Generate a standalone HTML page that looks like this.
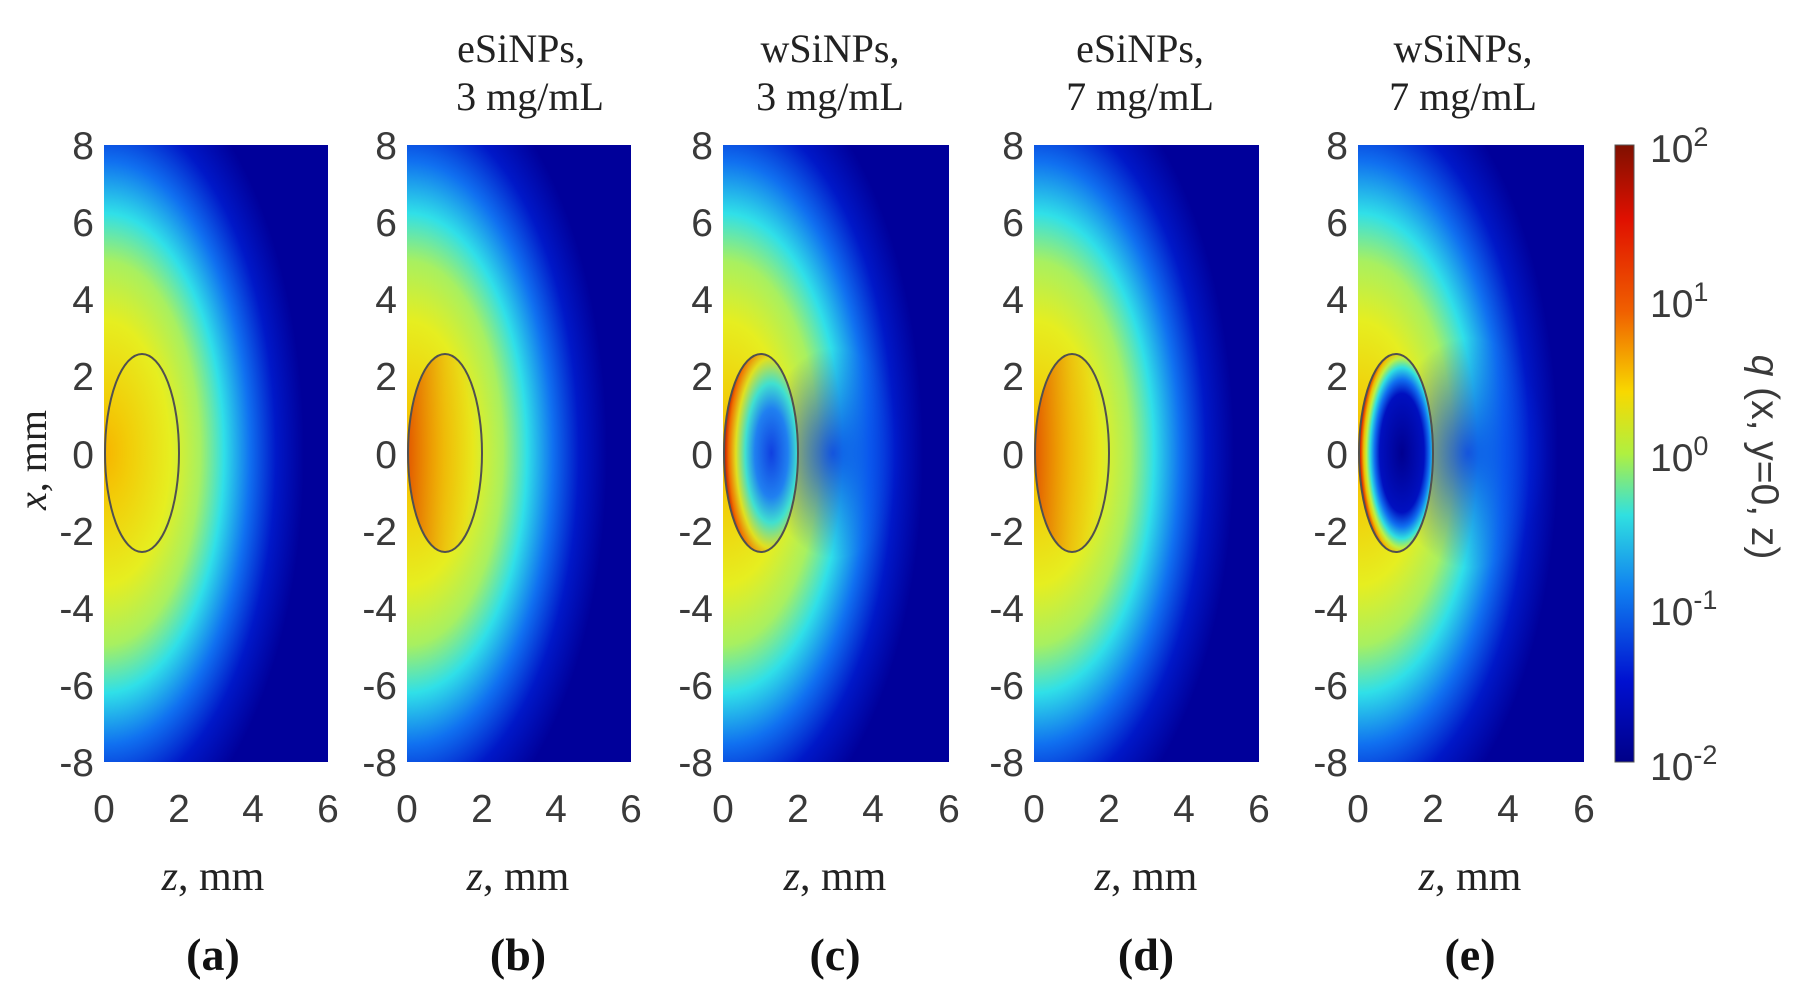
<!DOCTYPE html>
<html><head><meta charset="utf-8"><style>
html,body{margin:0;padding:0;background:#fff;}
svg{display:block}
.t{font-family:"Liberation Sans",sans-serif;font-size:39px;fill:#3a3a3a}
.s{font-family:"Liberation Serif",serif;font-size:40px;fill:#222}
.b{font-family:"Liberation Serif",serif;font-size:46px;fill:#111;font-weight:bold}
</style></head><body>
<svg width="1815" height="1000" viewBox="0 0 1815 1000" xmlns="http://www.w3.org/2000/svg">
<defs>
<radialGradient id="base" gradientUnits="userSpaceOnUse" cx="0" cy="0" r="1" gradientTransform="translate(0,308) scale(200,400)">
<stop offset="0" stop-color="#f7b400"/>
<stop offset="0.12" stop-color="#f2cc08"/>
<stop offset="0.33" stop-color="#e6ee20"/>
<stop offset="0.48" stop-color="#a8f060"/>
<stop offset="0.6" stop-color="#30e0e8"/>
<stop offset="0.73" stop-color="#1070f0"/>
<stop offset="0.86" stop-color="#0018c8"/>
<stop offset="1.0" stop-color="#00009a"/>
</radialGradient>
<linearGradient id="bin" x1="0" x2="1">
<stop offset="0" stop-color="#e05000" stop-opacity="0.9"/>
<stop offset="0.5" stop-color="#f0a000" stop-opacity="0.5"/>
<stop offset="1" stop-color="#f0c000" stop-opacity="0"/>
</linearGradient>
<radialGradient id="cin" cx="0.64" cy="0.5" r="0.64">
<stop offset="0" stop-color="#1040e0"/>
<stop offset="0.35" stop-color="#2080f0"/>
<stop offset="0.55" stop-color="#40e0d0"/>
<stop offset="0.75" stop-color="#e0e020"/>
<stop offset="0.9" stop-color="#f07000"/>
<stop offset="1" stop-color="#c01000"/>
</radialGradient>
<radialGradient id="ein" cx="0.58" cy="0.5" r="0.6">
<stop offset="0" stop-color="#000090"/>
<stop offset="0.5" stop-color="#0010c0"/>
<stop offset="0.62" stop-color="#1070f0"/>
<stop offset="0.72" stop-color="#30e0e0"/>
<stop offset="0.8" stop-color="#c0f040"/>
<stop offset="0.86" stop-color="#f0c000"/>
<stop offset="0.93" stop-color="#e03000"/>
<stop offset="1" stop-color="#800000"/>
</radialGradient>
<radialGradient id="shadow" cx="0.5" cy="0.5" r="0.5">
<stop offset="0" stop-color="#0030e8" stop-opacity="0.8"/>
<stop offset="1" stop-color="#0030e8" stop-opacity="0"/>
</radialGradient>
<linearGradient id="cb" x1="0" x2="0" y1="0" y2="1">
<stop offset="0" stop-color="#801000"/>
<stop offset="0.12" stop-color="#e01000"/>
<stop offset="0.27" stop-color="#f06000"/>
<stop offset="0.4" stop-color="#f8d800"/>
<stop offset="0.5" stop-color="#b0f040"/>
<stop offset="0.6" stop-color="#30e0e0"/>
<stop offset="0.72" stop-color="#1080f0"/>
<stop offset="0.87" stop-color="#0010d0"/>
<stop offset="1" stop-color="#000088"/>
</linearGradient>
</defs>

<g transform="translate(104,145)">
<rect width="224" height="617" fill="url(#base)"/>
<ellipse cx="38" cy="308" rx="37" ry="99" fill="none" stroke="#505050" stroke-width="2"/>
</g>
<g transform="translate(407,145)">
<rect width="224" height="617" fill="url(#base)"/>
<ellipse cx="38" cy="308" rx="37" ry="99" fill="url(#bin)"/>
<ellipse cx="38" cy="308" rx="37" ry="99" fill="none" stroke="#505050" stroke-width="2"/>
</g>
<g transform="translate(723,145)">
<rect width="226" height="617" fill="url(#base)"/>
<ellipse cx="110" cy="308" rx="70" ry="105" fill="url(#shadow)"/>
<ellipse cx="38" cy="308" rx="37" ry="99" fill="url(#cin)"/>
<ellipse cx="38" cy="308" rx="37" ry="99" fill="none" stroke="#505050" stroke-width="2"/>
</g>
<g transform="translate(1034,145)">
<rect width="225" height="617" fill="url(#base)"/>
<ellipse cx="38" cy="308" rx="37" ry="99" fill="url(#bin)"/>
<ellipse cx="38" cy="308" rx="37" ry="99" fill="none" stroke="#505050" stroke-width="2"/>
</g>
<g transform="translate(1358,145)">
<rect width="226" height="617" fill="url(#base)"/>
<ellipse cx="110" cy="308" rx="80" ry="115" fill="url(#shadow)"/>
<ellipse cx="38" cy="308" rx="37" ry="99" fill="url(#ein)"/>
<ellipse cx="38" cy="308" rx="37" ry="99" fill="none" stroke="#505050" stroke-width="2"/>
</g>

<rect x="1615" y="145" width="19" height="617" fill="url(#cb)" stroke="#555" stroke-width="1"/>

<g class="t" text-anchor="end">
<text x="94" y="159">8</text><text x="94" y="236">6</text><text x="94" y="313">4</text><text x="94" y="390">2</text><text x="94" y="468">0</text><text x="94" y="545">-2</text><text x="94" y="622">-4</text><text x="94" y="699">-6</text><text x="94" y="776">-8</text>
<text x="397" y="159">8</text><text x="397" y="236">6</text><text x="397" y="313">4</text><text x="397" y="390">2</text><text x="397" y="468">0</text><text x="397" y="545">-2</text><text x="397" y="622">-4</text><text x="397" y="699">-6</text><text x="397" y="776">-8</text>
<text x="713" y="159">8</text><text x="713" y="236">6</text><text x="713" y="313">4</text><text x="713" y="390">2</text><text x="713" y="468">0</text><text x="713" y="545">-2</text><text x="713" y="622">-4</text><text x="713" y="699">-6</text><text x="713" y="776">-8</text>
<text x="1024" y="159">8</text><text x="1024" y="236">6</text><text x="1024" y="313">4</text><text x="1024" y="390">2</text><text x="1024" y="468">0</text><text x="1024" y="545">-2</text><text x="1024" y="622">-4</text><text x="1024" y="699">-6</text><text x="1024" y="776">-8</text>
<text x="1348" y="159">8</text><text x="1348" y="236">6</text><text x="1348" y="313">4</text><text x="1348" y="390">2</text><text x="1348" y="468">0</text><text x="1348" y="545">-2</text><text x="1348" y="622">-4</text><text x="1348" y="699">-6</text><text x="1348" y="776">-8</text>
</g>
<g class="t" text-anchor="middle">
<text x="104" y="822">0</text><text x="179" y="822">2</text><text x="253" y="822">4</text><text x="328" y="822">6</text>
<text x="407" y="822">0</text><text x="482" y="822">2</text><text x="556" y="822">4</text><text x="631" y="822">6</text>
<text x="723" y="822">0</text><text x="798" y="822">2</text><text x="873" y="822">4</text><text x="949" y="822">6</text>
<text x="1034" y="822">0</text><text x="1109" y="822">2</text><text x="1184" y="822">4</text><text x="1259" y="822">6</text>
<text x="1358" y="822">0</text><text x="1433" y="822">2</text><text x="1508" y="822">4</text><text x="1584" y="822">6</text>
</g>
<g class="t">
<text x="1650" y="162">10<tspan dy="-16" font-size="27">2</tspan></text>
<text x="1650" y="317">10<tspan dy="-16" font-size="27">1</tspan></text>
<text x="1650" y="471">10<tspan dy="-16" font-size="27">0</tspan></text>
<text x="1650" y="625">10<tspan dy="-16" font-size="27">-1</tspan></text>
<text x="1650" y="780">10<tspan dy="-16" font-size="27">-2</tspan></text>
</g>
<text class="t" transform="translate(1752,457) rotate(90)" text-anchor="middle" font-size="36"><tspan font-style="italic">q</tspan> (x, y=0, z)</text>
<text class="s" transform="translate(46,460) rotate(-90)" text-anchor="middle" font-size="40"><tspan font-style="italic">x</tspan>, mm</text>

<g class="s" text-anchor="middle">
<text x="521" y="62">eSiNPs,</text><text x="530" y="110">3 mg/mL</text>
<text x="830" y="62">wSiNPs,</text><text x="830" y="110">3 mg/mL</text>
<text x="1140" y="62">eSiNPs,</text><text x="1140" y="110">7 mg/mL</text>
<text x="1463" y="62">wSiNPs,</text><text x="1463" y="110">7 mg/mL</text>
</g>
<g class="s" text-anchor="middle" font-size="42">
<text x="213" y="890" font-size="42"><tspan font-style="italic">z</tspan>, mm</text>
<text x="518" y="890" font-size="42"><tspan font-style="italic">z</tspan>, mm</text>
<text x="835" y="890" font-size="42"><tspan font-style="italic">z</tspan>, mm</text>
<text x="1146" y="890" font-size="42"><tspan font-style="italic">z</tspan>, mm</text>
<text x="1470" y="890" font-size="42"><tspan font-style="italic">z</tspan>, mm</text>
</g>
<g class="b" text-anchor="middle">
<text x="213" y="970">(a)</text>
<text x="518" y="970">(b)</text>
<text x="835" y="970">(c)</text>
<text x="1146" y="970">(d)</text>
<text x="1470" y="970">(e)</text>
</g>
</svg>
</body></html>
